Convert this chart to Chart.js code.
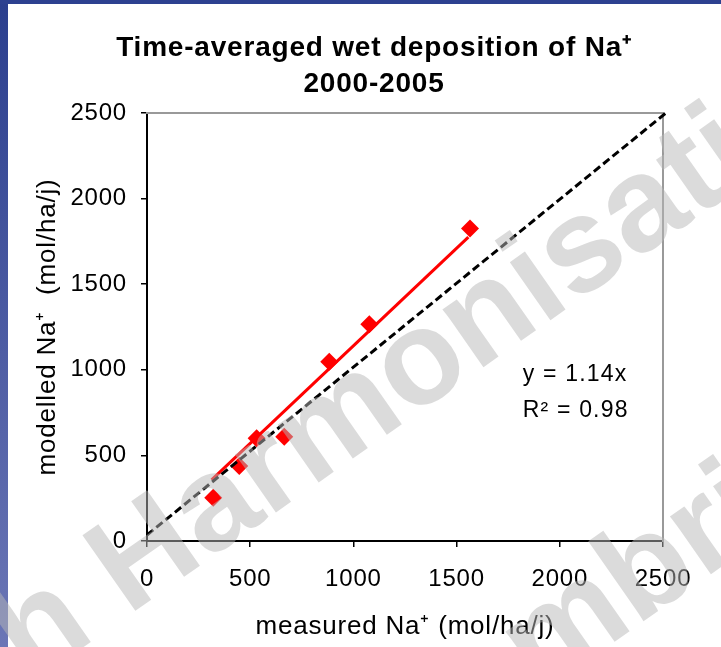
<!DOCTYPE html>
<html>
<head>
<meta charset="utf-8">
<style>
  html, body { margin: 0; padding: 0; background: #fff; }
  canvas { display: block; }
</style>
<script src="https://cdn.jsdelivr.net/npm/chart.js@4/dist/chart.umd.min.js"></script>
</head>
<body>
<canvas id="myChart" width="721" height="647"></canvas>
<script>
// measured vs modelled Na+ wet deposition, mol/ha/j
const measuredNa = [321, 447, 531, 665, 883, 1077, 1565];
const modelledNa = [253, 438, 600, 609, 1047, 1266, 1826];

// trend line y = 1.14x over the data range
const fitX = [313, 1557];
const fitY = [357, 1775];

// 1:1 reference line (dashed)
const refX = [0, 2518];
const refY = [35, 2504];

const tickValues = [0, 500, 1000, 1500, 2000, 2500];
const titleLines = ['Time-averaged wet deposition of Na\u207A', '2000-2005'];
const xTitle = 'measured Na\u207A (mol/ha/j)';
const yTitle = 'modelled Na\u207A  (mol/ha/j)';
const fitText = ['y = 1.14x', 'R\u00B2 = 0.98'];
const watermark = ['Research Harmonisation', 'Cambridge'];

const FONT = "'Liberation Sans', Arial, Helvetica, sans-serif";

const toPoints = (xs, ys) => xs.map((x, i) => ({ x: x, y: ys[i] }));

// blue slide edge behind the chart
const slideBackground = {
	id: 'slideBackground',
	beforeDraw(chart) {
		const ctx = chart.ctx;
		// the slide text is set a little wider than the canvas default
		ctx.letterSpacing = '0.8px';
		ctx.save();
		ctx.fillStyle = '#ffffff';
		ctx.fillRect(0, 0, chart.width, chart.height);
		const grad = ctx.createLinearGradient(0, 0, 0, chart.height);
		grad.addColorStop(0, '#2b3f8e');
		grad.addColorStop(1, '#6b76b6');
		ctx.fillStyle = grad;
		ctx.fillRect(0, 0, 8, chart.height);
		ctx.fillStyle = '#2d4190';
		ctx.fillRect(0, 0, chart.width, 4);
		ctx.restore();
	}
};

// regression equation text box
const fitLabel = {
	id: 'fitLabel',
	afterDatasetsDraw(chart) {
		const ctx = chart.ctx;
		const xs = chart.scales.x;
		const ys = chart.scales.y;
		ctx.save();
		ctx.font = '23px ' + FONT;
		ctx.letterSpacing = '1.2px';
		ctx.fillStyle = '#000';
		ctx.textAlign = 'left';
		ctx.textBaseline = 'middle';
		ctx.fillText(fitText[0], xs.getPixelForValue(1820), ys.getPixelForValue(970));
		ctx.fillText(fitText[1], xs.getPixelForValue(1820), ys.getPixelForValue(760));
		ctx.restore();
	}
};

// grey watermark laid over the whole slide
const watermarkPlugin = {
	id: 'watermark',
	afterDraw(chart) {
		const ctx = chart.ctx;
		ctx.save();
		ctx.letterSpacing = '0px';
		ctx.font = 'bold 134px ' + FONT;
		ctx.fillStyle = 'rgba(184,184,184,0.5)';
		ctx.textBaseline = 'alphabetic';
		ctx.translate(128, 616);
		ctx.rotate(-35 * Math.PI / 180);
		const pre = ctx.measureText('Research ').width;
		ctx.fillText(watermark[0], -pre, 0);
		ctx.fillText(watermark[1], 120, 300);
		ctx.restore();
	}
};

const plainTick = v => String(v);

const ctx = document.getElementById('myChart');

new Chart(ctx, {
	type: 'scatter',
	data: {
		datasets: [
			{
				label: '1:1',
				data: toPoints(refX, refY),
				showLine: true,
				borderColor: '#000',
				borderWidth: 3,
				borderDash: [8, 4],
				pointRadius: 0,
				clip: false,
				order: 0
			},
			{
				label: 'fit',
				data: toPoints(fitX, fitY),
				showLine: true,
				borderColor: '#ff0000',
				borderWidth: 3,
				pointRadius: 0,
				order: 1
			},
			{
				label: 'Na+',
				data: toPoints(measuredNa, modelledNa),
				pointStyle: 'rectRot',
				pointRadius: 9,
				pointHoverRadius: 9,
				backgroundColor: '#ff0000',
				borderWidth: 0,
				order: 2
			}
		]
	},
	options: {
		responsive: false,
		animation: false,
		devicePixelRatio: 1,
		layout: { padding: { left: 27, right: 0, top: 4, bottom: 0 } },
		plugins: {
			legend: { display: false },
			tooltip: { enabled: false },
			title: {
				display: true,
				text: titleLines,
				color: '#000',
				font: { family: FONT, size: 28, weight: 'bold', lineHeight: 1.286 },
				padding: { top: 26, bottom: 11 }
			}
		},
		scales: {
			x: {
				type: 'linear',
				position: 'bottom',
				min: 0,
				max: 2500,
				afterBuildTicks: s => { s.ticks = tickValues.map(v => ({ value: v })); },
				afterFit: s => { s.height = 106; s.paddingLeft = 0; s.paddingRight = 0; },
				grid: { display: true, drawOnChartArea: false, drawTicks: true, tickLength: 6, color: '#000', lineWidth: 1.5 },
				border: { display: true, color: '#000', width: 2 },
				ticks: { color: '#000', font: { family: FONT, size: 24 }, padding: 18, maxRotation: 0, callback: plainTick },
				title: { display: true, text: xTitle, color: '#000', font: { family: FONT, size: 26 }, padding: { bottom: 5 } }
			},
			y: {
				type: 'linear',
				position: 'left',
				min: 0,
				max: 2500,
				afterBuildTicks: s => { s.ticks = tickValues.map(v => ({ value: v })); },
				afterFit: s => { s.width = 120; s.paddingTop = 0; s.paddingBottom = 0; },
				grid: { display: true, drawOnChartArea: false, drawTicks: true, tickLength: 6, color: '#000', lineWidth: 1.5 },
				border: { display: true, color: '#000', width: 2 },
				ticks: { color: '#000', font: { family: FONT, size: 24 }, padding: 14, callback: plainTick },
				title: { display: true, text: yTitle, color: '#000', font: { family: FONT, size: 26 }, padding: { top: 5 } }
			},
			x2: {
				type: 'linear',
				position: 'top',
				min: 0,
				max: 2500,
				afterFit: s => { s.height = 0; s.paddingLeft = 0; s.paddingRight = 0; },
				grid: { display: false },
				ticks: { display: false },
				border: { display: true, color: '#999999', width: 2 }
			},
			y2: {
				type: 'linear',
				position: 'right',
				min: 0,
				max: 2500,
				afterFit: s => { s.width = 58; s.paddingTop = 0; s.paddingBottom = 0; },
				grid: { display: false },
				ticks: { display: false },
				border: { display: true, color: '#999999', width: 2 }
			}
		}
	},
	plugins: [slideBackground, fitLabel, watermarkPlugin]
});
</script>
</body>
</html>
